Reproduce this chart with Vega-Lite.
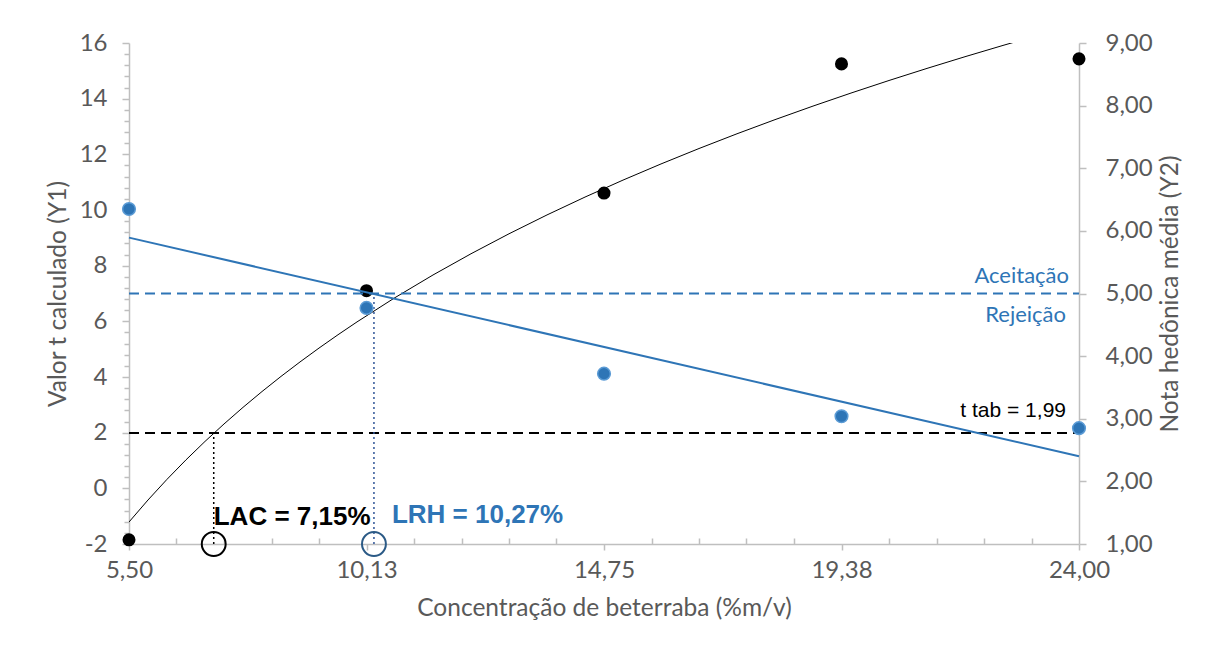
{
  "$schema": "https://vega.github.io/schema/vega-lite/v6.json",
  "width": 950,
  "height": 501,
  "autosize": {"type": "none"},
  "padding": {"left": 129, "top": 43, "right": 126, "bottom": 111},
  "background": "white",
  "config": {
    "view": {"stroke": null},
    "font": "Lato",
    "axis": {
      "grid": false,
      "labelFlush": false,
      "domainColor": "#BFBFBF",
      "domainWidth": 1.5,
      "tickColor": "#BFBFBF",
      "tickWidth": 1.5,
      "labelColor": "#595959",
      "labelFont": "Lato",
      "labelFontSize": 24,
      "titleColor": "#595959",
      "titleFont": "Lato",
      "titleFontSize": 24.5,
      "titleFontWeight": "normal"
    }
  },
  "datasets": {
    "tcalc": [
      {"conc": 5.5, "t": -1.85},
      {"conc": 10.125, "t": 7.1},
      {"conc": 14.75, "t": 10.61},
      {"conc": 19.375, "t": 15.25},
      {"conc": 24, "t": 15.43}
    ],
    "nota": [
      {"conc": 5.5, "nota": 6.35},
      {"conc": 10.125, "nota": 4.77},
      {"conc": 14.75, "nota": 3.72},
      {"conc": 19.375, "nota": 3.04},
      {"conc": 24, "nota": 2.85}
    ],
    "ttab": [{"conc": 5.5, "conc_end": 24, "t": 1.99, "label": "t tab = 1,99"}],
    "lac": [{"conc": 7.15, "t": -2, "t2": 1.99, "label": "LAC = 7,15%"}],
    "aceite": [{"conc": 5.5, "conc_end": 24, "nota": 5}],
    "lrh": [{"conc": 10.27, "nota": 1, "nota2": 5, "label": "LRH = 10,27%"}],
    "zonas": [
      {"conc": 24, "nota": 5, "label": "Aceitação"},
      {"conc": 24, "nota": 5, "label": "Rejeição"}
    ]
  },
  "encoding": {
    "x": {
      "field": "conc",
      "type": "quantitative",
      "scale": {"domain": [5.5, 24], "nice": false, "zero": false},
      "axis": {
        "title": "Concentração de beterraba (%m/v)",
        "values": [5.5, 6.425, 7.35, 8.275, 9.2, 10.125, 11.05, 11.975, 12.9, 13.825, 14.75, 15.675, 16.6, 17.525, 18.45, 19.375, 20.3, 21.225, 22.15, 23.075, 24],
        "tickSize": {
          "condition": {"test": "abs((datum.value-5.5)/4.625-round((datum.value-5.5)/4.625))<0.001", "value": 6},
          "value": -6
        },
        "labelExpr": "abs((datum.value-5.5)/4.625-round((datum.value-5.5)/4.625))<0.001 ? replace(format(datum.value,'.2f'),'.',',') : ''",
        "labelPadding": 8,
        "titlePadding": 14
      }
    }
  },
  "layer": [
    {
      "encoding": {
        "y": {
          "field": "t",
          "type": "quantitative",
          "scale": {"domain": [-2, 16], "nice": false, "zero": false},
          "axis": {
            "title": "Valor t calculado (Y1)",
            "values": [-2, -1.6, -1.2, -0.8, -0.4, 0, 0.4, 0.8, 1.2, 1.6, 2, 2.4, 2.8, 3.2, 3.6, 4, 4.4, 4.8, 5.2, 5.6, 6, 6.4, 6.8, 7.2, 7.6, 8, 8.4, 8.8, 9.2, 9.6, 10, 10.4, 10.8, 11.2, 11.6, 12, 12.4, 12.8, 13.2, 13.6, 14, 14.4, 14.8, 15.2, 15.6, 16],
            "tickSize": {
              "condition": {"test": "abs(datum.value/2-round(datum.value/2))<0.001", "value": 7},
              "value": 5
            },
            "labelExpr": "abs(datum.value/2-round(datum.value/2))<0.001 ? '' + round(datum.value) : ''",
            "labelPadding": 15,
            "titlePadding": 9
          }
        }
      },
      "layer": [
        {
          "data": {"name": "ttab"},
          "mark": {"type": "rule", "color": "black", "strokeWidth": 2, "strokeDash": [10, 6]},
          "encoding": {"x2": {"field": "conc_end"}}
        },
        {
          "data": {"name": "tcalc"},
          "transform": [{"regression": "t", "on": "conc", "method": "log", "extent": [5.5, 24]}],
          "mark": {"type": "line", "color": "black", "strokeWidth": 1, "clip": true}
        },
        {
          "data": {"name": "lac"},
          "mark": {"type": "rule", "color": "black", "strokeWidth": 1.5, "strokeDash": [2, 3]},
          "encoding": {"y2": {"field": "t2"}}
        },
        {
          "data": {"name": "lac"},
          "mark": {"type": "point", "shape": "circle", "filled": false, "size": 570, "stroke": "black", "strokeWidth": 2, "opacity": 1}
        },
        {
          "data": {"name": "tcalc"},
          "mark": {"type": "circle", "color": "black", "size": 170, "opacity": 1}
        },
        {
          "data": {"name": "lac"},
          "mark": {"type": "text", "align": "left", "baseline": "alphabetic", "dy": -19, "font": "Liberation Sans", "fontSize": 26, "fontWeight": "bold", "color": "black"},
          "encoding": {"text": {"field": "label"}}
        },
        {
          "data": {"name": "ttab"},
          "mark": {"type": "text", "align": "right", "baseline": "alphabetic", "dx": 937, "dy": -16, "font": "Liberation Sans", "fontSize": 21, "color": "black"},
          "encoding": {"text": {"field": "label"}}
        }
      ]
    },
    {
      "encoding": {
        "y": {
          "field": "nota",
          "type": "quantitative",
          "scale": {"domain": [1, 9], "nice": false, "zero": false},
          "axis": {
            "orient": "right",
            "title": "Nota hedônica média (Y2)",
            "titleAngle": 270,
            "values": [1, 2, 3, 4, 5, 6, 7, 8, 9],
            "tickSize": 7,
            "labelExpr": "replace(format(datum.value,'.2f'),'.',',')",
            "labelPadding": 19,
            "titlePadding": 30
          }
        }
      },
      "layer": [
        {
          "data": {"name": "aceite"},
          "mark": {"type": "rule", "color": "#2E75B6", "strokeWidth": 2, "strokeDash": [10, 6]},
          "encoding": {"x2": {"field": "conc_end"}}
        },
        {
          "data": {"name": "nota"},
          "transform": [{"regression": "nota", "on": "conc", "method": "linear", "extent": [5.5, 24]}],
          "mark": {"type": "line", "color": "#2E75B6", "strokeWidth": 2}
        },
        {
          "data": {"name": "lrh"},
          "mark": {"type": "rule", "color": "#2F5597", "strokeWidth": 1.5, "strokeDash": [2, 3]},
          "encoding": {"y2": {"field": "nota2"}}
        },
        {
          "data": {"name": "lrh"},
          "mark": {"type": "point", "shape": "circle", "filled": false, "size": 570, "stroke": "#2B5A86", "strokeWidth": 2, "opacity": 1}
        },
        {
          "data": {"name": "nota"},
          "mark": {"type": "circle", "fill": "#2E75B6", "stroke": "#5B9BD5", "strokeWidth": 1.5, "size": 160, "opacity": 1}
        },
        {
          "data": {"name": "lrh"},
          "mark": {"type": "text", "align": "left", "baseline": "alphabetic", "dx": 18, "dy": -21, "font": "Liberation Sans", "fontSize": 26, "fontWeight": "bold", "color": "#2E75B6"},
          "encoding": {"text": {"field": "label"}}
        },
        {
          "data": {"name": "zonas"},
          "transform": [{"filter": "datum.label == 'Aceitação'"}],
          "mark": {"type": "text", "align": "right", "baseline": "alphabetic", "dx": -10, "dy": -11, "font": "Lato", "fontSize": 22, "color": "#2E75B6"},
          "encoding": {"text": {"field": "label"}}
        },
        {
          "data": {"name": "zonas"},
          "transform": [{"filter": "datum.label == 'Rejeição'"}],
          "mark": {"type": "text", "align": "right", "baseline": "alphabetic", "dx": -13, "dy": 28, "font": "Lato", "fontSize": 22, "color": "#2E75B6"},
          "encoding": {"text": {"field": "label"}}
        }
      ]
    }
  ],
  "resolve": {"scale": {"y": "independent"}}
}
